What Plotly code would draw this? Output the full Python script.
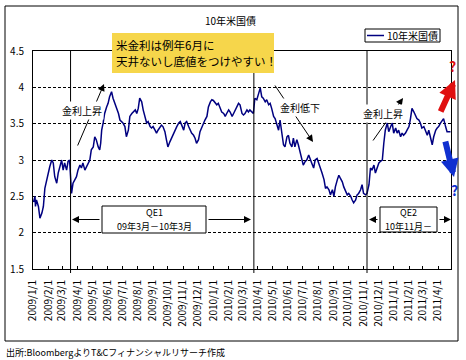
import plotly.graph_objects as go

# ---------------- data ----------------
dates = [
    "2009-01-02", "2009-01-05", "2009-01-06", "2009-01-08", "2009-01-12", "2009-01-15", "2009-01-19", "2009-01-22",
    "2009-01-25", "2009-01-29", "2009-02-01", "2009-02-04", "2009-02-08", "2009-02-11", "2009-02-14", "2009-02-18",
    "2009-02-21", "2009-02-24", "2009-02-28", "2009-03-03", "2009-03-06", "2009-03-10", "2009-03-13", "2009-03-16",
    "2009-03-18", "2009-03-20", "2009-03-23", "2009-03-27", "2009-03-30", "2009-04-02", "2009-04-06", "2009-04-09",
    "2009-04-12", "2009-04-16", "2009-04-19", "2009-04-22", "2009-04-26", "2009-04-29", "2009-05-03", "2009-05-06",
    "2009-05-09", "2009-05-13", "2009-05-16", "2009-05-18", "2009-05-20", "2009-05-23", "2009-05-26", "2009-05-30",
    "2009-06-02", "2009-06-05", "2009-06-09", "2009-06-12", "2009-06-16", "2009-06-19", "2009-06-23", "2009-06-26",
    "2009-06-30", "2009-07-02", "2009-07-06", "2009-07-09", "2009-07-13", "2009-07-16", "2009-07-20", "2009-07-23",
    "2009-07-27", "2009-07-30", "2009-08-02", "2009-08-05", "2009-08-09", "2009-08-12", "2009-08-15", "2009-08-19",
    "2009-08-22", "2009-08-26", "2009-08-29", "2009-09-01", "2009-09-05", "2009-09-08", "2009-09-11", "2009-09-15",
    "2009-09-18", "2009-09-21", "2009-09-25", "2009-09-28", "2009-10-01", "2009-10-05", "2009-10-08", "2009-10-12",
    "2009-10-16", "2009-10-19", "2009-10-23", "2009-10-26", "2009-10-29", "2009-11-02", "2009-11-05", "2009-11-08",
    "2009-11-12", "2009-11-15", "2009-11-18", "2009-11-22", "2009-11-25", "2009-11-28", "2009-12-02", "2009-12-05",
    "2009-12-09", "2009-12-12", "2009-12-15", "2009-12-19", "2009-12-22", "2009-12-26", "2009-12-29", "2010-01-01",
    "2010-01-05", "2010-01-08", "2010-01-11", "2010-01-15", "2010-01-18", "2010-01-22", "2010-01-25", "2010-01-28",
    "2010-02-01", "2010-02-04", "2010-02-08", "2010-02-11", "2010-02-14", "2010-02-17", "2010-02-21", "2010-02-24",
    "2010-02-28", "2010-03-03", "2010-03-06", "2010-03-10", "2010-03-13", "2010-03-16", "2010-03-20", "2010-03-23",
    "2010-03-26", "2010-03-30", "2010-04-02", "2010-04-06", "2010-04-09", "2010-04-12", "2010-04-16", "2010-04-19",
    "2010-04-23", "2010-04-26", "2010-04-29", "2010-05-03", "2010-05-06", "2010-05-09", "2010-05-13", "2010-05-16",
    "2010-05-20", "2010-05-23", "2010-05-26", "2010-05-30", "2010-06-02", "2010-06-05", "2010-06-09", "2010-06-12",
    "2010-06-15", "2010-06-19", "2010-06-22", "2010-06-26", "2010-06-29", "2010-07-02", "2010-07-06", "2010-07-09",
    "2010-07-13", "2010-07-16", "2010-07-19", "2010-07-23", "2010-07-26", "2010-07-30", "2010-08-02", "2010-08-06",
    "2010-08-09", "2010-08-13", "2010-08-16", "2010-08-19", "2010-08-23", "2010-08-26", "2010-08-30", "2010-09-02",
    "2010-09-05", "2010-09-09", "2010-09-12", "2010-09-15", "2010-09-19", "2010-09-22", "2010-09-25", "2010-09-29",
    "2010-10-02", "2010-10-06", "2010-10-09", "2010-10-12", "2010-10-16", "2010-10-19", "2010-10-22", "2010-10-26",
    "2010-10-29", "2010-11-01", "2010-11-05", "2010-11-08", "2010-11-12", "2010-11-15", "2010-11-18", "2010-11-22",
    "2010-11-25", "2010-11-28", "2010-12-02", "2010-12-05", "2010-12-09", "2010-12-12", "2010-12-15", "2010-12-19",
    "2010-12-22", "2010-12-26", "2010-12-29", "2011-01-01", "2011-01-05", "2011-01-08", "2011-01-11", "2011-01-15",
    "2011-01-18", "2011-01-21", "2011-01-25", "2011-01-28", "2011-02-01", "2011-02-04", "2011-02-07", "2011-02-11",
    "2011-02-14", "2011-02-17", "2011-02-21", "2011-02-24", "2011-02-27", "2011-03-03", "2011-03-06", "2011-03-10",
    "2011-03-13", "2011-03-16", "2011-03-20", "2011-03-23", "2011-03-27", "2011-03-30", "2011-04-02", "2011-04-06",
    "2011-04-09", "2011-04-12", "2011-04-16", "2011-04-19", "2011-04-23", "2011-04-26",
]

yields = [
    2.42, 2.50, 2.36, 2.45, 2.36, 2.20, 2.27, 2.36,
    2.61, 2.73, 2.86, 2.91, 3.00, 2.96, 2.77, 2.68,
    2.82, 2.91, 3.00, 2.86, 2.96, 2.86, 2.98, 3.00,
    2.73, 2.54, 2.68, 2.73, 2.77, 2.86, 2.93, 2.89,
    2.96, 2.86, 2.91, 2.96, 3.00, 3.14, 3.18, 3.32,
    3.28, 3.18, 3.14, 3.23, 3.41, 3.51, 3.64, 3.73,
    3.78, 3.87, 3.94, 3.85, 3.78, 3.73, 3.64, 3.55,
    3.53, 3.51, 3.46, 3.32, 3.41, 3.60, 3.64, 3.66,
    3.69, 3.64, 3.71, 3.85, 3.80, 3.69, 3.60, 3.51,
    3.53, 3.46, 3.44, 3.46, 3.41, 3.37, 3.41, 3.46,
    3.48, 3.46, 3.39, 3.28, 3.18, 3.25, 3.30, 3.37,
    3.41, 3.46, 3.51, 3.53, 3.48, 3.41, 3.51, 3.53,
    3.46, 3.41, 3.37, 3.34, 3.30, 3.23, 3.28, 3.39,
    3.46, 3.51, 3.55, 3.60, 3.73, 3.80, 3.83, 3.82,
    3.78, 3.76, 3.78, 3.71, 3.66, 3.64, 3.60, 3.64,
    3.69, 3.66, 3.60, 3.64, 3.69, 3.73, 3.78, 3.76,
    3.64, 3.62, 3.64, 3.69, 3.66, 3.69, 3.66, 3.64,
    3.85, 3.83, 3.90, 3.99, 3.87, 3.85, 3.80, 3.83,
    3.76, 3.78, 3.71, 3.60, 3.57, 3.51, 3.41, 3.55,
    3.32, 3.21, 3.18, 3.32, 3.34, 3.23, 3.18, 3.30,
    3.18, 3.28, 3.21, 3.11, 3.00, 2.93, 2.98, 3.00,
    3.07, 3.00, 2.96, 2.89, 3.00, 3.02, 2.96, 2.91,
    2.82, 2.73, 2.61, 2.63, 2.59, 2.52, 2.59, 2.50,
    2.63, 2.73, 2.79, 2.75, 2.70, 2.63, 2.59, 2.52,
    2.54, 2.50, 2.45, 2.41, 2.45, 2.52, 2.54, 2.59,
    2.66, 2.54, 2.52, 2.54, 2.66, 2.89, 2.86, 2.93,
    2.82, 2.89, 2.96, 2.98, 3.00, 3.23, 3.41, 3.51,
    3.39, 3.46, 3.51, 3.37, 3.44, 3.37, 3.41, 3.32,
    3.37, 3.34, 3.37, 3.41, 3.46, 3.57, 3.71, 3.66,
    3.62, 3.57, 3.55, 3.51, 3.44, 3.46, 3.41, 3.34,
    3.41, 3.30, 3.21, 3.32, 3.41, 3.44, 3.46, 3.51,
    3.55, 3.57, 3.46, 3.39, 3.39, 3.39,
]

tick_dates = [
    "2009-01-01", "2009-02-01", "2009-03-01", "2009-04-01", "2009-05-01", "2009-06-01", "2009-07-01",
    "2009-08-01", "2009-09-01", "2009-10-01", "2009-11-01", "2009-12-01", "2010-01-01", "2010-02-01",
    "2010-03-01", "2010-04-01", "2010-05-01", "2010-06-01", "2010-07-01", "2010-08-01", "2010-09-01",
    "2010-10-01", "2010-11-01", "2010-12-01", "2011-01-01", "2011-02-01", "2011-03-01", "2011-04-01",
]
tick_labels = [
    "2009/1/1", "2009/2/1", "2009/3/1", "2009/4/1", "2009/5/1", "2009/6/1", "2009/7/1",
    "2009/8/1", "2009/9/1", "2009/10/1", "2009/11/1", "2009/12/1", "2010/1/1", "2010/2/1",
    "2010/3/1", "2010/4/1", "2010/5/1", "2010/6/1", "2010/7/1", "2010/8/1", "2010/9/1",
    "2010/10/1", "2010/11/1", "2010/12/1", "2011/1/1", "2011/2/1", "2011/3/1", "2011/4/1",
]
y_ticks = [1.5, 2.0, 2.5, 3.0, 3.5, 4.0, 4.5]
y_tick_labels = ["1.5", "2", "2.5", "3", "3.5", "4", "4.5"]
x_range = ["2009-01-01", "2011-04-27"]
event_dates = ["2009-03-18", "2010-03-24", "2010-11-08"]

series_name = "10年米国債"
chart_title = "10年米国債"
note_lines = ["米金利は例年6月に", "天井ないし底値をつけやすい！"]
trend_labels = ["金利上昇", "金利低下", "金利上昇"]
qe_titles = ["QE1", "QE2"]
qe_periods = ["09年3月－10年3月", "10年11月－"]
source_text = "出所:BloombergよりT&Cフィナンシャルリサーチ作成"

# ---------------- layout helpers ----------------
W, H = 466, 360
L, R, T, B = 33, 451, 51, 269
FONT = "Noto Sans CJK JP, Noto Sans, sans-serif"
NAVY = "#000080"


def px(x):
    return (x - L) / (R - L)


def py(y):
    return (B - y) / (B - T)


def label(x, y, text, size=10, color="black", xanchor="center", **kw):
    return dict(xref="paper", yref="paper", x=px(x), y=py(y), xanchor=xanchor,
                yanchor="middle", showarrow=False, text=text,
                font=dict(size=size, color=color, family=FONT), **kw)


def arrow(head, tail, color="black", width=1, size=1.4):
    (hx, hy), (tx, ty) = head, tail
    return dict(xref="paper", yref="paper", x=px(hx), y=py(hy), ax=tx - hx, ay=ty - hy,
                text="", showarrow=True, arrowhead=2, arrowsize=size, arrowwidth=width,
                arrowcolor=color, standoff=0, startstandoff=0)


fig = go.Figure()
fig.add_trace(go.Scatter(
    x=dates, y=yields, mode="lines", name=series_name,
    line=dict(color=NAVY, width=1.5), showlegend=False, hoverinfo="skip",
))

shapes = []
ann = []

# outer chart border
shapes.append(dict(type="rect", xref="paper", yref="paper",
                   x0=px(5), x1=px(458), y0=py(341), y1=py(6),
                   line=dict(color="black", width=1), layer="below"))

# event vertical lines
for d in event_dates:
    shapes.append(dict(type="line", xref="x", yref="paper", x0=d, x1=d,
                       y0=py(273), y1=1, line=dict(color="black", width=1)))

# yellow note box
shapes.append(dict(type="rect", xref="paper", yref="paper",
                   x0=px(112), x1=px(274), y0=py(73), y1=py(33),
                   fillcolor="#F6D64B", line=dict(width=0)))
for i, line in enumerate(note_lines):
    ann.append(label(114, 45 + 16 * i, line, size=11.5, xanchor="left"))

# custom legend
shapes.append(dict(type="rect", xref="paper", yref="paper",
                   x0=px(365), x1=px(440), y0=py(42), y1=py(29),
                   fillcolor="white", line=dict(color="black", width=1)))
shapes.append(dict(type="line", xref="paper", yref="paper",
                   x0=px(367), x1=px(384), y0=py(35.5), y1=py(35.5),
                   line=dict(color=NAVY, width=1.5)))
ann.append(label(385, 35.5, series_name, xanchor="left"))

# title
ann.append(label(230, 20, chart_title))

# thin trend arrows + labels
ann.append(arrow((104, 84), (77, 147)))
ann.append(arrow((313, 142), (274, 84)))
ann.append(arrow((403, 98), (372, 142)))
for (lx, ly), t in zip([(82, 110), (300, 107), (383, 113)], trend_labels):
    ann.append(label(lx, ly, t, bgcolor="white"))

# thick red / blue arrows with question marks
ann.append(arrow((455, 80), (440, 113), color="#E01010", width=6, size=0.6))
ann.append(arrow((454, 177), (445, 140), color="#1030D0", width=6, size=0.6))
ann.append(label(453, 66, "<b>?</b>", size=14, color="#E01010"))
ann.append(label(454, 190, "<b>?</b>", size=14, color="#1030D0"))

# QE boxes
qe_boxes = [(102, 206, 206, 233, 72, 251), (380, 207, 437, 232, 369, 451)]
for (x0, y0, x1, y1, al, ar), qt, qp in zip(qe_boxes, qe_titles, qe_periods):
    shapes.append(dict(type="rect", xref="paper", yref="paper",
                       x0=px(x0), x1=px(x1), y0=py(y1), y1=py(y0),
                       fillcolor="white", line=dict(color="black", width=1)))
    cx = (x0 + x1) / 2
    ym = (y0 + y1) / 2
    ann.append(label(cx, ym - 6.6, qt, size=9))
    ann.append(label(cx, ym + 6.6, qp, size=9))
    ann.append(arrow((al, ym), (x0 - 1, ym)))
    ann.append(arrow((ar, ym), (x1 + 1, ym)))

# source
ann.append(label(4, 352, source_text, size=9, xanchor="left"))

fig.update_layout(
    width=W, height=H,
    margin=dict(l=L, r=W - R, t=T, b=H - B, pad=0),
    paper_bgcolor="white", plot_bgcolor="white",
    font=dict(family=FONT, size=10, color="black"),
    shapes=shapes, annotations=ann, showlegend=False,
)
fig.update_xaxes(
    type="date", range=x_range, tickmode="array", tickvals=tick_dates, ticktext=tick_labels,
    tickangle=-90, ticks="inside", ticklen=3, tickcolor="black",
    showgrid=False, showline=True, linecolor="black", linewidth=1, mirror=True,
    tickfont=dict(size=10, family=FONT), ticklabelstandoff=6, automargin=False,
)
fig.update_yaxes(
    range=[1.5, 4.5], tickmode="array", tickvals=y_ticks, ticktext=y_tick_labels,
    ticks="", showgrid=True, gridcolor="black", gridwidth=1, griddash="3px,2px",
    showline=True, linecolor="black", linewidth=1, mirror=True, zeroline=False,
    tickfont=dict(size=10, family=FONT), ticklabelstandoff=6, automargin=False,
)

fig.write_html("out.html", config={"displayModeBar": False},
               post_script="document.body.style.margin='0';")
